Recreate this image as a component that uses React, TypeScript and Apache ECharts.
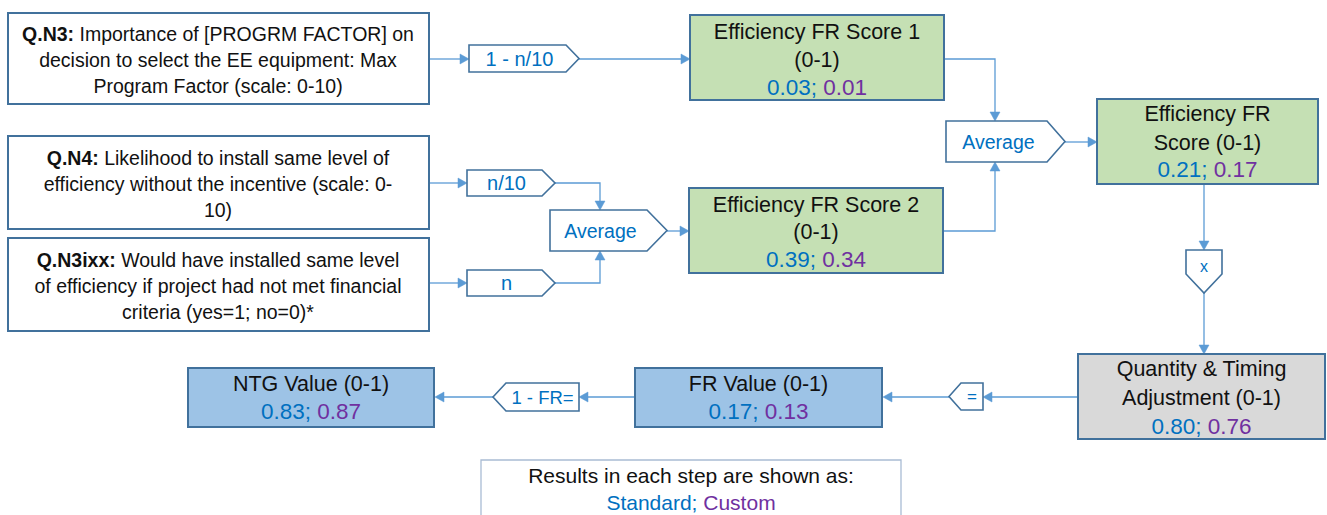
import React, { useEffect, useRef } from "react";
import * as echarts from "echarts";

// ---------- data ----------
const questionIds = ["Q.N3:", "Q.N4:", "Q.N3ixx:"];
const questionLines = [
  [" Importance of [PROGRM FACTOR] on", "decision to select the EE equipment: Max", "Program Factor (scale: 0-10)"],
  [" Likelihood to install same level of", "efficiency without the incentive (scale: 0-", "10)"],
  [" Would have installed same level", "of efficiency if project had not met financial", "criteria (yes=1; no=0)*"],
];
const operatorLabels = ["1 - n/10", "n/10", "n", "Average", "Average", "x", "=", "1 - FR="];
const resultTitles = [
  ["Efficiency FR Score 1", "(0-1)"],
  ["Efficiency FR Score 2", "(0-1)"],
  ["Efficiency FR", "Score (0-1)"],
  ["Quantity & Timing", "Adjustment (0-1)"],
  ["FR Value (0-1)"],
  ["NTG Value (0-1)"],
];
const standardValues = [0.03, 0.39, 0.21, 0.8, 0.17, 0.83];
const customValues = [0.01, 0.34, 0.17, 0.76, 0.13, 0.87];
const legendLabels = ["Results in each step are shown as:", "Standard", "Custom"];

// ---------- styles ----------
const FONT = "'Liberation Sans', Arial, sans-serif";
const BLUE = "#0070c0";
const PURPLE = "#7030a0";
const BORDER = "#41719c";
const LINK = "#5b9bd5";
const GREEN = "#c5e0b4";
const LIGHTBLUE = "#9dc3e6";
const GRAY = "#d9d9d9";
const Q_SIZE = 19.5;
const TITLE_SIZE = 21.5;
const VALUE_SIZE = 22.5;

type Pt = [number, number];

function rect(x: number, y: number, w: number, h: number, fill: string, stroke: string, lw = 2): any {
  return { type: "rect", shape: { x, y, width: w, height: h }, style: { fill, stroke, lineWidth: lw } };
}

function text(x: number, y: number, t: string, size: number, color = "#111", rich?: any, weight: any = "normal"): any {
  return {
    type: "text",
    x,
    y,
    style: {
      text: t,
      fontFamily: FONT,
      fontSize: size,
      fontWeight: weight,
      fill: color,
      align: "center",
      verticalAlign: "middle",
      rich,
    },
  };
}

function poly(points: Pt[]): any {
  return { type: "polygon", shape: { points }, style: { fill: "#fff", stroke: BORDER, lineWidth: 1.6 } };
}

function connector(points: Pt[]): any[] {
  const n = points.length;
  const [x2, y2] = points[n - 1];
  const [x1, y1] = points[n - 2];
  const len = Math.hypot(x2 - x1, y2 - y1);
  const ux = (x2 - x1) / len;
  const uy = (y2 - y1) / len;
  const al = 9;
  const aw = 5;
  const bx = x2 - ux * al;
  const by = y2 - uy * al;
  const linePts = points.slice(0, n - 1).concat([[bx, by]]);
  return [
    { type: "polyline", shape: { points: linePts }, style: { stroke: LINK, lineWidth: 1.3, fill: "none" } },
    {
      type: "polygon",
      shape: { points: [[x2, y2], [bx - uy * aw, by + ux * aw], [bx + uy * aw, by - ux * aw]] },
      style: { fill: LINK, stroke: LINK, lineWidth: 0.5 },
    },
  ];
}

const valueRich = {
  s: { fill: BLUE, fontSize: VALUE_SIZE, fontFamily: FONT },
  c: { fill: PURPLE, fontSize: VALUE_SIZE, fontFamily: FONT },
};
function valueText(cx: number, cy: number, i: number): any {
  return text(
    cx,
    cy,
    `{s|${standardValues[i].toFixed(2)};}{c| ${customValues[i].toFixed(2)}}`,
    VALUE_SIZE,
    BLUE,
    valueRich
  );
}

function resultBox(i: number, x: number, y: number, w: number, h: number, fill: string, lineYs: number[], border = BORDER): any[] {
  const cx = x + w / 2;
  const els: any[] = [rect(x, y, w, h, fill, border)];
  resultTitles[i].forEach((t, k) => els.push(text(cx, lineYs[k], t, TITLE_SIZE, "#111")));
  els.push(valueText(cx, lineYs[resultTitles[i].length], i));
  return els;
}

function buildGraphics(): any[] {
  const g: any[] = [];
  // ---- connectors ----
  const links: Pt[][] = [
    [[429, 59], [469, 59]],
    [[579, 59], [690, 59]],
    [[428, 183], [467, 183]],
    [[428, 283], [467, 283]],
    [[555, 183], [600, 183], [600, 210]],
    [[555, 283], [600, 283], [600, 251]],
    [[667, 231], [689, 231]],
    [[944, 59], [995, 59], [995, 121]],
    [[943, 231], [995, 231], [995, 162]],
    [[1065, 142], [1097, 142]],
    [[1204, 184], [1204, 250]],
    [[1204, 293], [1204, 354]],
    [[1078, 397], [983, 397]],
    [[949, 397], [883, 397]],
    [[635, 397], [579, 397]],
    [[493, 397], [435, 397]],
  ];
  links.forEach((p) => g.push(...connector(p)));

  // ---- question boxes ----
  const qBoxes = [
    { y: 13, h: 91, ly: [34, 60, 86] },
    { y: 136, h: 93, ly: [158, 184, 210] },
    { y: 238, h: 93, ly: [260, 286, 312] },
  ];
  qBoxes.forEach((b, i) => {
    g.push(rect(8, b.y, 421, b.h, "#fff", BORDER));
    questionLines[i].forEach((ln, k) => {
      if (k === 0) {
        g.push(
          text(218, b.ly[k], `{b|${questionIds[i]}}{r|${ln}}`, Q_SIZE, "#111", {
            b: { fontWeight: "bold", fontSize: Q_SIZE, fontFamily: FONT, fill: "#111" },
            r: { fontSize: Q_SIZE, fontFamily: FONT, fill: "#111" },
          })
        );
      } else {
        g.push(text(218, b.ly[k], ln, Q_SIZE, "#111"));
      }
    });
  });

  // ---- operator shapes ----
  const rightPent = (x: number, y: number, bw: number, tip: number, h: number, label: string, fs: number) => {
    g.push(poly([[x, y], [x + bw, y], [x + bw + tip, y + h / 2], [x + bw, y + h], [x, y + h]]));
    g.push(text(x + bw / 2 + 2, y + h / 2, label, fs, BLUE));
  };
  rightPent(469, 45, 97, 13, 27, operatorLabels[0], 20);
  rightPent(467, 170, 75, 13, 26, operatorLabels[1], 20);
  rightPent(467, 270, 75, 13, 26, operatorLabels[2], 20);
  rightPent(550, 210, 97, 20, 41, operatorLabels[3], 19.5);
  rightPent(946, 121, 101, 18, 41, operatorLabels[4], 19.5);

  // down pentagon "x"
  g.push(poly([[1186, 250], [1222, 250], [1222, 274], [1204, 293], [1186, 274]]));
  g.push(text(1204, 266, operatorLabels[5], 16, BLUE));

  // left pentagons
  const leftPent = (tipX: number, bx: number, ex: number, y: number, h: number, label: string, fs: number) => {
    g.push(poly([[tipX, y + h / 2], [bx, y], [ex, y], [ex, y + h], [bx, y + h]]));
    g.push(text((bx + ex) / 2, y + h / 2, label, fs, BLUE));
  };
  leftPent(949, 961, 983, 383, 27, operatorLabels[6], 17);
  leftPent(493, 506, 579, 383, 28, operatorLabels[7], 18.5);

  // ---- result boxes ----
  g.push(...resultBox(0, 690, 15, 254, 85, GREEN, [32, 60, 87]));
  g.push(...resultBox(1, 689, 188, 254, 85, GREEN, [205, 232, 259]));
  g.push(...resultBox(2, 1097, 99, 221, 85, GREEN, [114, 143, 169]));
  g.push(...resultBox(3, 1078, 354, 247, 85, GRAY, [369, 398, 426]));
  g.push(...resultBox(4, 635, 368, 247, 59, LIGHTBLUE, [384, 411]));
  g.push(...resultBox(5, 188, 368, 246, 59, LIGHTBLUE, [384, 411]));

  // ---- legend ----
  g.push({
    type: "rect",
    shape: { x: 481, y: 460, width: 420, height: 70 },
    style: { fill: "#fff", stroke: "#a9bcd4", lineWidth: 1.3 },
  });
  g.push(text(691, 475, legendLabels[0], 21, "#111"));
  g.push(
    text(691, 502, `{s|${legendLabels[1]};}{c| ${legendLabels[2]}}`, 21, BLUE, {
      s: { fill: BLUE, fontSize: 21, fontFamily: FONT },
      c: { fill: PURPLE, fontSize: 21, fontFamily: FONT },
    })
  );
  return g;
}

export default function App() {
  const ref = useRef<HTMLDivElement>(null);
  useEffect(() => {
    document.body.style.margin = "0";
    if (!ref.current) return;
    const chart = echarts.init(ref.current, null, { renderer: "svg" });
    chart.setOption({
      animation: false,
      backgroundColor: "#fff",
      graphic: { elements: buildGraphics() },
    });
    return () => chart.dispose();
  }, []);
  return (
    <div
      ref={ref}
      style={{ position: "absolute", left: 0, top: 0, width: 1327, height: 515, overflow: "hidden" }}
    />
  );
}
